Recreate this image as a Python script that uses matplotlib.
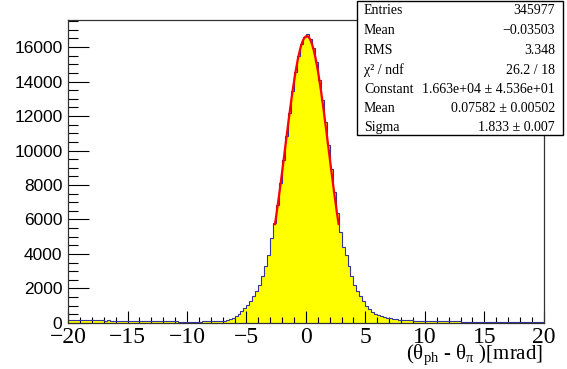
import numpy as np
import matplotlib
matplotlib.use("Agg")
import matplotlib.pyplot as plt
from matplotlib.patches import Rectangle
from matplotlib.ticker import MultipleLocator

# ==============================
# DATA (160 bins, -20 .. 20 mrad)
# ==============================
bin_lo, bin_hi, n_bins = -20.0, 20.0, 160

counts_left_tail = [
    175, 168, 172, 160, 165, 158, 162, 150, 155, 148,
    150, 145, 142, 147, 138, 140, 135, 138, 130, 133,
    128, 125, 130, 120, 118, 122, 115, 112, 110, 108,
    105, 100, 98, 95, 92, 90, 88, 85, 82, 80,
    80, 78, 82, 80, 85, 88, 90, 95, 100, 108,
    120, 135, 140, 175,
]
counts_left_flank = [
    215, 295, 395, 525, 680, 865, 1030, 1260, 1570, 1880,
    2200, 2740, 3280, 3960, 4930,
]
counts_core = [
    5780, 6860, 8120, 9460, 10850, 12180, 13450, 14560, 15480, 16180, 16560,
    16730, 16450, 15950, 15150, 14100, 12950, 11650, 10300, 8920, 7600, 6380,
]
counts_right_flank = [
    5300, 4420, 3920, 3280, 2740, 2230, 1840, 1540, 1255, 1005,
    810, 655, 540, 455, 395, 350, 310, 275, 245, 220,
    200, 185, 170, 160, 150, 142, 135, 128, 122,
]
counts_right_tail = [
    118, 115, 112, 108, 105, 102, 100, 97, 95, 92,
    90, 88, 85, 83, 80, 78, 76, 74, 72, 70,
    68, 66, 64, 63, 61, 60, 58, 57, 55, 54,
    53, 52, 50, 49, 48, 47, 46, 45, 44, 43,
]

# gaussian fit result (from the stats box)
fit_const, fit_mean, fit_sigma = 1.663e4, 0.07582, 1.833
fit_lo, fit_hi = -2.6, 2.75

stat_names = ["Entries", "Mean", "RMS", "χ² / ndf", "Constant", "Mean", "Sigma"]
stat_values = ["345977", "\u22120.03503", "3.348", "26.2 / 18",
               "1.663e+04 ± 4.536e+01", "0.07582 ± 0.00502", "1.833 ± 0.007"]


def main():
    plt.rcParams['font.family'] = ['Liberation Serif', 'DejaVu Serif']

    counts = np.array(counts_left_tail + counts_left_flank + counts_core
                      + counts_right_flank + counts_right_tail, dtype=float)
    edges = np.linspace(bin_lo, bin_hi, n_bins + 1)

    fig = plt.figure(figsize=(5.67, 3.69), dpi=100)
    ax = fig.add_axes([0.120, 0.1247, 0.839, 0.8211])

    ax.stairs(counts, edges, fill=True, color='#ffff00', zorder=1)
    ax.stairs(counts, edges, color='#34349a', linewidth=0.8, zorder=2)

    xf = np.linspace(fit_lo, fit_hi, 100)
    yf = fit_const * np.exp(-0.5 * ((xf - fit_mean) / fit_sigma) ** 2)
    ax.plot(xf, yf, color='#ff0000', linewidth=1.6, zorder=3)

    ax.set_xlim(bin_lo, bin_hi)
    ax.set_ylim(0, 1.05 * counts.max())

    ax.xaxis.set_major_locator(MultipleLocator(5))
    ax.xaxis.set_minor_locator(MultipleLocator(1))
    ax.yaxis.set_major_locator(MultipleLocator(2000))
    ax.yaxis.set_minor_locator(MultipleLocator(500))
    ax.tick_params(axis='x', which='major', direction='in', length=9, width=0.8,
                   labelsize=17, pad=3)
    ax.tick_params(axis='x', which='minor', direction='in', length=4.5, width=0.8)
    ax.tick_params(axis='y', which='major', direction='in', length=15, width=0.8,
                   labelsize=12.5, pad=4)
    ax.tick_params(axis='y', which='minor', direction='in', length=7.5, width=0.8)
    for lab in ax.get_yticklabels():
        lab.set_family(['Liberation Sans', 'DejaVu Sans'])
    ax.set_xticks([-20, -15, -10, -5, 0, 5, 10, 15, 20])
    ax.set_xticklabels(["\u221220", "\u221215", "\u221210", "\u22125", "0", "5", "10", "15", "20"])
    for sp in ax.spines.values():
        sp.set_linewidth(0.9)
        sp.set_color('#333333')

    fig.text(0.958, 0.006,
             r"($\mathregular{θ_{ph}}$ - $\mathregular{θ_{π}}$ )[mrad]",
             ha='right', va='bottom', fontsize=15)

    # stats box
    bx0, bx1, by0, by1 = 357 / 567, 563 / 567, 1 - 135 / 369, 1 - 1 / 369
    fig.patches.append(Rectangle((bx0, by0), bx1 - bx0, by1 - by0,
                                 transform=fig.transFigure, facecolor='white',
                                 edgecolor='black', linewidth=1.0, zorder=5))
    row_y = [10.5, 30.5, 50.5, 70, 89.5, 108.5, 127.5]
    for name, val, yy in zip(stat_names, stat_values, row_y):
        fig.text(364 / 567, 1 - yy / 369, name, ha='left', va='center',
                 fontsize=10, zorder=6)
        fig.text(555 / 567, 1 - yy / 369, val, ha='right', va='center',
                 fontsize=10, zorder=6)

    fig.savefig("out.png", dpi=100)


if __name__ == "__main__":
    main()
